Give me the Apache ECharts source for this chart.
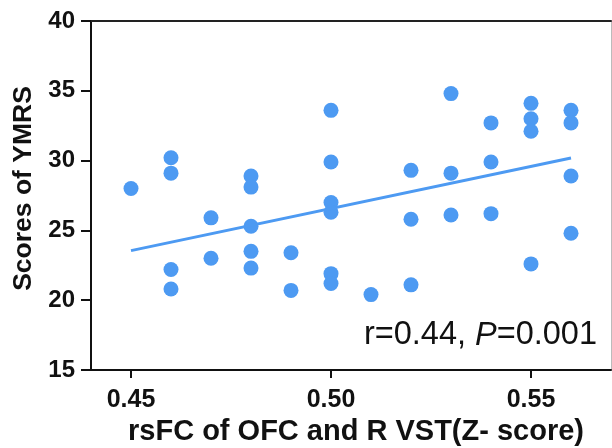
<!DOCTYPE html>
<html>
<head>
<meta charset="utf-8">
<script src="https://cdn.jsdelivr.net/npm/echarts@6/dist/echarts.min.js"></script>
<style>
html,body{margin:0;padding:0;background:#fff;}
#chart{width:612px;height:448px;}
</style>
</head>
<body>
<div id="chart"></div>
<script>
// rsFC values (x) and YMRS scores (y)
var xValues = [0.45,
  0.46,0.46,0.46,0.46,
  0.47,0.47,
  0.48,0.48,0.48,0.48,0.48,
  0.49,0.49,
  0.50,0.50,0.50,0.50,0.50,0.50,
  0.51,
  0.52,0.52,0.52,
  0.53,0.53,0.53,
  0.54,0.54,0.54,
  0.55,0.55,0.55,0.55,
  0.56,0.56,0.56,0.56];
var yValues = [28.0,
  30.2,29.1,22.2,20.8,
  25.9,23.0,
  28.9,28.1,25.3,23.5,22.3,
  23.4,20.7,
  33.6,29.9,27.0,26.3,21.9,21.2,
  20.4,
  29.3,25.8,21.1,
  34.8,29.1,26.1,
  32.7,29.9,26.2,
  34.1,33.0,32.1,22.6,
  33.6,32.7,28.9,24.8];
// regression line end points
var fitX = [0.45, 0.56];
var fitY = [23.55, 30.19];
var xTickValues = [0.45, 0.50, 0.55];
var yTicks = {min: 15, max: 40, interval: 5};
var xTitle = 'rsFC of OFC and R VST(Z- score)';
var yTitle = 'Scores of YMRS';

var pts = xValues.map(function(x, i){ return [x, yValues[i]]; });
var fit = fitX.map(function(x, i){ return [x, fitY[i]]; });

var FONT = '"Liberation Sans", Arial, sans-serif';
var BLUE = '#4d9af2';
var chart = echarts.init(document.getElementById('chart'), null, {renderer: 'canvas'});
chart.setOption({
  animation: false,
  backgroundColor: '#fff',
  grid: {left: 91, right: 1, top: 21, bottom: 78, containLabel: false, outerBoundsMode: 'none'},
  xAxis: [{
    type: 'value', min: 0.44, max: 0.57, interval: 0.01,
    splitLine: {show: false},
    axisLine: {lineStyle: {color: '#111', width: 2}},
    axisTick: {inside: false, length: 8, lineStyle: {color: '#111', width: 2}, customValues: xTickValues},
    axisLabel: {customValues: xTickValues, margin: 18, color: '#111', fontFamily: FONT, fontWeight: 'bold', fontSize: 25,
      formatter: function(v){ return v.toFixed(2); }},
    name: xTitle, nameLocation: 'middle', nameGap: 41,
    nameTextStyle: {color: '#111', fontFamily: FONT, fontWeight: 'bold', fontSize: 29, padding: [0,0,0,10]}
  }, {
    type: 'value', position: 'top', min: 0.44, max: 0.57,
    splitLine: {show: false},
    axisLine: {lineStyle: {color: '#222', width: 2}},
    axisTick: {show: false}, axisLabel: {show: false}
  }],
  yAxis: [{
    type: 'value', min: yTicks.min, max: yTicks.max, interval: yTicks.interval,
    splitLine: {show: false},
    axisLine: {lineStyle: {color: '#111', width: 2}},
    axisTick: {inside: false, length: 10, lineStyle: {color: '#111', width: 2}},
    axisLabel: {margin: 16, color: '#111', fontFamily: FONT, fontWeight: 'bold', fontSize: 24},
    name: yTitle, nameLocation: 'middle', nameGap: 53, nameRotate: 90,
    nameTextStyle: {color: '#111', fontFamily: FONT, fontWeight: 'bold', fontSize: 26.5, padding: [0,0,0,14]}
  }, {
    type: 'value', position: 'right', min: yTicks.min, max: yTicks.max,
    splitLine: {show: false},
    axisLine: {show: true, lineStyle: {color: '#bbb', width: 1}},
    axisTick: {show: false}, axisLabel: {show: false}
  }],
  series: [{
    type: 'scatter', data: pts, symbol: 'circle', symbolSize: 15,
    itemStyle: {color: BLUE, opacity: 1}
  }, {
    type: 'line', data: fit, symbol: 'none',
    lineStyle: {color: BLUE, width: 3}
  }],
  graphic: [{
    type: 'text', right: 15, top: 319,
    style: {
      text: '{n|r=0.44, }{i|P}{n|=0.001}',
      rich: {
        n: {fontFamily: FONT, fontSize: 32.5, fill: '#111'},
        i: {fontFamily: FONT, fontSize: 32.5, fontStyle: 'italic', fill: '#111'}
      }
    }
  }]
});
</script>
</body>
</html>
